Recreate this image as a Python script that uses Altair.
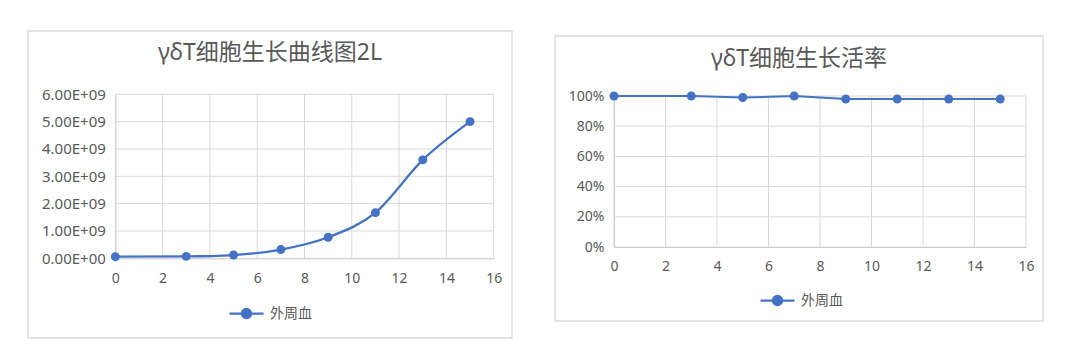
import altair as alt
import pandas as pd

# ---- data ----
days = [0, 3, 5, 7, 9, 11, 13, 15]
cell_counts = [6e7, 7e7, 1.2e8, 3.2e8, 7.7e8, 1.67e9, 3.6e9, 5.0e9]
viability = [1.00, 1.00, 0.99, 1.00, 0.98, 0.98, 0.98, 0.98]
series_name = "外周血"
x_ticks = [0, 2, 4, 6, 8, 10, 12, 14, 16]
count_ticks = [0, 1e9, 2e9, 3e9, 4e9, 5e9, 6e9]
via_ticks = [0, 0.2, 0.4, 0.6, 0.8, 1.0]
title_growth = "γδT细胞生长曲线图2L"
title_via = "γδT细胞生长活率"

BLUE = "#4472C4"
GREY_TXT = "#595959"
GRID = "#d9d9d9"
FONT = "Noto Sans, Noto Sans CJK SC"

# legend symbol: short line with a dot in the middle
LEGEND_PATH = ("M-1,0L1,0M0.27,0A0.27,0.27,0,1,1,-0.27,0"
               "A0.27,0.27,0,1,1,0.27,0Z")


def panel(yvals, title, yticks, ymax, label_expr, label_format, ylab_size,
          w, h, xr, yr, box_y, title_off, legend_xy, interp, line_w, field,
          xpad):
    xscale = alt.Scale(domain=[0, 16], range=xr, nice=False, zero=False)
    yscale = alt.Scale(domain=[0, ymax], range=yr, nice=False, zero=False)
    xaxis = alt.Axis(title=None, values=x_ticks, grid=False, ticks=False,
                     domainColor="#bfbfbf", labelFontSize=14, labelColor=GREY_TXT,
                     labelFont=FONT, labelPadding=xpad, labelFlush=False,
                     labelOverlap=False, offset=yr[0] - h)
    yaxis_kw = dict(title=None, values=yticks, grid=False, ticks=False,
                    domainColor="#bfbfbf", labelFontSize=ylab_size,
                    labelColor=GREY_TXT, labelFont=FONT, labelPadding=10,
                    labelOverlap=False, offset=-xr[0])
    if label_expr:
        yaxis_kw["labelExpr"] = label_expr
    if label_format:
        yaxis_kw["format"] = label_format
    yaxis = alt.Axis(**yaxis_kw)

    vgrid = pd.DataFrame({"x": x_ticks, "y0": [0] * len(x_ticks),
                          "y1": [ymax] * len(x_ticks)})
    hgrid = pd.DataFrame({"y": yticks, "x0": [0] * len(yticks),
                          "x1": [16] * len(yticks)})
    df = pd.DataFrame({"day": days, "v": yvals,
                       field: [series_name] * len(days)})

    g1 = alt.Chart(vgrid).mark_rule(color=GRID, strokeWidth=1).encode(
        x=alt.X("x:Q", scale=xscale, axis=xaxis),
        y=alt.Y("y0:Q", scale=yscale, axis=yaxis), y2="y1:Q")
    g2 = alt.Chart(hgrid).mark_rule(color=GRID, strokeWidth=1).encode(
        y=alt.Y("y:Q", scale=yscale, axis=yaxis),
        x=alt.X("x0:Q", scale=xscale, axis=xaxis), x2="x1:Q")
    line = alt.Chart(df).mark_line(color=BLUE, strokeWidth=line_w,
                                   interpolate=interp).encode(
        x=alt.X("day:Q", scale=xscale, axis=xaxis),
        y=alt.Y("v:Q", scale=yscale, axis=yaxis))
    pts = alt.Chart(df).mark_circle(size=80, opacity=1).encode(
        x=alt.X("day:Q", scale=xscale, axis=xaxis),
        y=alt.Y("v:Q", scale=yscale, axis=yaxis),
        color=alt.Color(f"{field}:N", scale=alt.Scale(range=[BLUE]),
                        legend=alt.Legend(
                            title=None, orient="none",
                            legendX=legend_xy[0], legendY=legend_xy[1],
                            symbolType=LEGEND_PATH, symbolSize=1156,
                            symbolFillColor=BLUE, symbolStrokeColor=BLUE,
                            symbolStrokeWidth=2.25, labelFontSize=14,
                            labelColor=GREY_TXT, labelFont=FONT,
                            labelOffset=5, padding=0)))
    frame = alt.Chart(pd.DataFrame({"a": [0]})).mark_rect(
        fillOpacity=0, stroke=GRID, strokeWidth=1.3).encode(
        x=alt.value(0), x2=alt.value(w), y=alt.value(box_y[0]),
        y2=alt.value(box_y[1]))

    return alt.layer(g1, g2, line, pts, frame).properties(
        width=w, height=h,
        title=alt.TitleParams(title, fontSize=23, font=FONT, color=GREY_TXT,
                              fontWeight="normal", anchor="middle",
                              frame="group", baseline="alphabetic",
                              offset=-title_off))


left = panel(cell_counts, title_growth, count_ticks, 6e9,
             "upper(replace(format(datum.value, '.2e'), 'e+', 'e+0'))", None, 15,
             484, 307, [87.3, 465.7], [227.3, 63.3], [0, 307], 53,
             (200, 264), "monotone", 2.25, "s1", 13)
right = panel(viability, title_via, via_ticks, 1.0, None, ".0%", 14,
              488, 307, [59, 471], [216, 65], [5, 290], 58,
              (204, 251), "linear", 2, "s2", 12)

chart = alt.hconcat(left, right, spacing=43, bounds="flush").resolve_scale(
    color="independent"
).properties(
    padding={"left": 27, "top": 30, "right": 0, "bottom": 0},
    background="white",
).configure_view(strokeWidth=0)

chart.save("out.html", embed_options={"renderer": "svg", "actions": False})
